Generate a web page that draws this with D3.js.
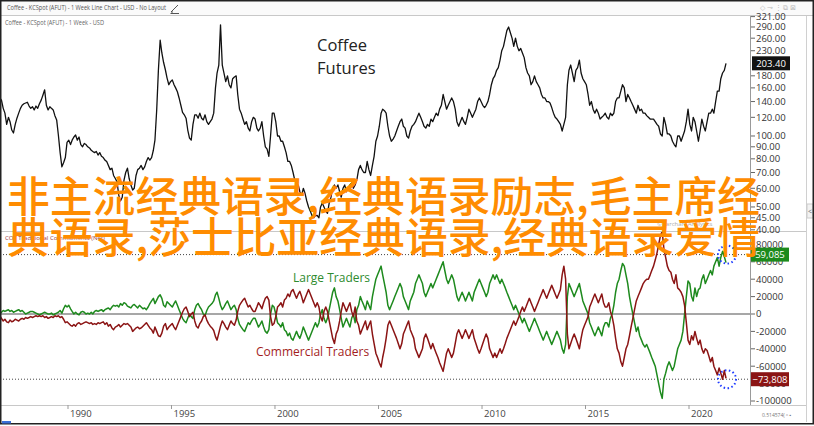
<!DOCTYPE html>
<html><head><meta charset="utf-8">
<script src="https://cdn.jsdelivr.net/npm/d3@7"></script>
<style>
body{margin:0;background:#fff;}
svg{display:block;font-family:"Open Sans","Noto Sans",sans-serif;}
</style></head><body>
<svg id="c" width="814" height="426"></svg>
<script>
// ---- DATA (monthly, starting Sep 1986) ----
const startYear = 1986, startMonthIndex = 8; // September 1986
const price = [
145,142,131,125,
112,120,115,106,103,112,119,125,131,135,137,138,
139,134,131,133,129,134,131,137,142,149,157,135,
129,133,131,129,122,117,101,85,74,77,81,94,
96,92,96,99,101,96,99,92,90,93,92,90,
89,87,86,85,86,83,85,82,81,79,78,75,
72,73,68,66,64,56,53,55,65,70,73,66,
62,59,60,68,72,73,75,72,74,78,81,79,
81,87,96,129,190,255,225,205,191,176,165,170,
173,165,160,154,145,135,126,123,119,106,98,96,
112,123,123,119,125,119,117,123,115,112,115,118,
125,160,185,200,296,200,185,170,180,165,160,175,
178,180,150,130,125,118,112,115,108,105,115,120,
118,108,105,108,115,100,90,88,82,100,125,125,
115,100,100,95,95,90,85,78,78,75,70,65,
63,62,58,56,60,57,53,50,48,46,45,46,
46,45,50,52,50,48,47,52,55,60,62,60,
62,58,55,60,62,58,60,62,63,60,62,65,
72,75,72,70,70,78,72,68,75,82,95,100,
110,125,130,128,125,110,100,95,97,100,105,110,
115,118,110,108,100,98,105,110,112,115,120,125,
120,115,110,108,112,110,118,115,120,125,122,130,
135,150,140,130,135,140,145,140,130,115,110,115,
120,115,112,120,130,125,120,125,130,140,145,140,
135,132,135,140,150,165,175,180,190,195,210,230,
240,260,280,290,275,260,240,260,240,230,235,225,
215,195,185,180,165,170,180,170,165,160,150,145,
145,140,140,138,132,125,120,118,115,112,105,112,
120,165,190,200,185,170,190,195,210,185,175,170,
165,150,135,140,130,125,130,125,118,120,122,125,
120,118,125,122,125,140,145,145,155,165,160,140,
150,145,140,135,130,125,135,128,130,125,125,122,
120,118,118,118,115,112,110,102,100,120,112,102,
102,100,95,92,90,100,100,95,100,105,115,130,
112,105,120,115,105,95,105,118,110,105,115,125,
125,130,125,140,155,155,175,185,190,203.40
];
// net positions, thousands of contracts
const largeTraders = [
0,2,4,3,
4,5,3,4,2,3,4,5,3,4,2,0,
1,2,3,3,2,1,0,-1,0,1,2,1,
0,0,1,-1,0,1,2,4,1,6,10,8,
10,6,3,0,2,0,-1,2,3,2,0,1,
0,2,0,3,4,3,4,5,3,5,6,7,
5,8,10,9,10,8,12,10,13,12,9,8,
7,10,11,9,7,10,8,6,7,5,8,12,
15,18,12,16,20,22,18,10,8,14,12,10,
8,12,15,10,5,0,-5,-8,-10,-5,0,-3,
-5,5,10,12,8,5,0,-2,4,8,10,12,
15,22,25,18,10,5,8,12,15,10,5,8,
10,5,-5,-12,-15,-18,-20,-15,-10,-12,-8,-5,
-5,-10,-15,-12,-8,-15,-20,-22,-18,0,10,8,
0,-10,-12,-15,-10,-18,-20,-25,-22,-28,-30,-25,
-20,-25,-28,-22,-15,-20,-25,-30,-25,-20,-15,-10,
-15,-10,0,5,-5,-10,-5,5,15,25,30,20,
15,5,-5,-15,-10,-5,-10,-15,-5,0,-10,5,
10,20,15,10,5,15,10,5,20,30,40,45,
50,55,45,35,25,10,5,10,15,20,25,30,
35,30,20,15,10,5,15,20,25,35,40,45,
40,35,25,20,25,30,35,30,35,40,45,50,
55,60,50,40,35,40,45,40,30,20,15,20,
25,20,15,20,25,20,15,25,30,35,40,35,
30,25,20,25,35,40,45,40,45,40,35,40,
35,30,25,20,15,10,5,10,5,0,-5,-10,
-5,-10,-15,-20,-15,-10,-5,-10,-15,-20,-25,-30,
-25,-20,-25,-30,-35,-30,-25,-20,-25,-30,-40,-45,
-35,20,35,30,25,20,25,30,35,25,15,10,
5,0,-10,-15,-20,-25,-20,-15,-20,-25,-15,-10,
-10,-15,-5,0,10,25,35,40,50,58,55,45,
35,20,10,0,-10,-20,-15,-25,-30,-35,-38,-35,
-40,-45,-50,-55,-60,-70,-80,-90,-97,-75,-68,-60,
-55,-60,-65,-60,-50,-40,-35,-30,-20,0,20,38,
35,20,15,30,20,28,30,40,45,35,40,45,
50,45,55,60,65,55,65,72,66,59.085
];
const commercialTraders = [
-2,-5,-8,-6,
-9,-10,-7,-9,-8,-6,-7,-8,-6,-5,-6,-4,
-5,-4,-3,-4,-3,-2,-3,-2,-3,-2,-4,-3,
-5,-4,-3,-4,-2,-3,-2,-4,-3,-6,-10,-9,
-11,-13,-14,-12,-14,-11,-10,-12,-11,-10,-9,-10,
-11,-10,-12,-11,-12,-10,-11,-10,-9,-12,-10,-14,
-12,-16,-18,-15,-14,-12,-15,-13,-11,-12,-11,-13,
-15,-20,-18,-16,-15,-17,-16,-14,-12,-10,-13,-16,
-18,-22,-15,-20,-25,-26,-22,-14,-11,-18,-15,-13,
-11,-15,-18,-13,-8,-3,2,6,8,3,-3,0,
2,-8,-14,-16,-11,-8,-3,-1,-7,-11,-14,-16,
-19,-26,-30,-22,-14,-8,-11,-15,-18,-13,-8,-11,
-13,-7,3,10,13,16,18,13,8,10,6,3,
3,8,13,10,6,13,18,20,16,-3,-13,-11,
-3,8,10,13,8,16,18,23,20,26,28,23,
18,23,26,20,13,18,23,28,23,18,13,8,
13,8,-3,-8,3,8,3,-8,-18,-28,-34,-23,
-18,-8,3,13,8,3,8,13,3,-3,8,-8,
-13,-23,-18,-13,-8,-18,-13,-8,-23,-34,-45,-50,
-56,-61,-50,-40,-28,-13,-8,-13,-18,-23,-28,-34,
-40,-34,-23,-18,-13,-8,-18,-23,-28,-40,-45,-50,
-45,-40,-28,-23,-28,-34,-40,-34,-40,-45,-50,-56,
-61,-66,-56,-45,-40,-45,-50,-45,-34,-23,-18,-23,
-28,-23,-18,-23,-28,-23,-18,-28,-34,-40,-45,-40,
-34,-28,-23,-28,-40,-45,-50,-45,-50,-45,-40,-45,
-40,-34,-28,-23,-18,-13,-8,-13,-8,-3,3,8,
3,8,13,18,13,8,3,8,13,18,23,28,
23,18,23,28,33,28,23,18,23,28,45,55,
40,-23,-40,-34,-28,-23,-28,-34,-40,-28,-18,-13,
-8,-3,8,13,18,23,18,13,18,23,13,8,
8,13,3,-3,-13,-28,-40,-45,-55,-60,-50,-40,
-35,-25,-15,-5,5,15,20,25,30,35,38,40,
40,45,50,55,62,70,80,90,95,75,65,55,
50,48,40,35,45,30,28,25,20,10,-10,-30,
-35,-25,-30,-20,-28,-35,-30,-40,-45,-40,-42,-48,
-55,-50,-60,-65,-70,-62,-68,-75,-65,-73.808
];
const yearTicks = [1990,1995,2000,2005,2010,2015,2020];
const priceTicks = [321,290,260,230,180,160,140,120,100,90,80,70,60,50,45,40];
const cotTicks = [80,60,40,20,0,-20,-40,-60,-80,-100];
const titleLines = ["Coffee","Futures"];
const overlayLines = ["非主流经典语录,经典语录励志,毛主席经","典语录,莎士比亚经典语录,经典语录爱情"];

// ---- CHART ----
const svg = d3.select("#c");
const dates = price.map((_, i) => new Date(startYear, startMonthIndex + i, 15));
const x = d3.scaleTime().domain([new Date(1990,0,1), new Date(2020,0,1)]).range([68, 689]);
const yP = d3.scaleLog().domain([40, 321]).range([229.8, 16.6]);
const yC = d3.scaleLinear().domain([-100, 80]).range([401, 244.4]);

svg.append("rect").attr("width",814).attr("height",426).attr("fill","#fff");
const defs = svg.append("defs");
defs.append("clipPath").attr("id","cp1").append("rect").attr("x",0).attr("y",16).attr("width",750).attr("height",215);
defs.append("clipPath").attr("id","cp2").append("rect").attr("x",0).attr("y",232).attr("width",750).attr("height",173);

// header
svg.append("rect").attr("x",0).attr("y",0).attr("width",814).attr("height",15).attr("fill","#fafafa");
svg.append("line").attr("x1",0).attr("x2",814).attr("y1",15.5).attr("y2",15.5).attr("stroke","#c8c8c8");
svg.append("text").attr("x",7).attr("y",10).attr("font-size",7).attr("fill","#555")
  .attr("textLength",159).attr("lengthAdjust","spacingAndGlyphs")
  .text("Coffee - KCSpot (AFUT) - 1 Week Line Chart - USD - No Layout");
svg.append("path").attr("d","M171,12 L178,5 M171,12 L173,12 M170.5,13.5 L179,13.5").attr("stroke","#555").attr("stroke-width",1).attr("fill","none");
svg.append("text").attr("x",760).attr("y",10).attr("font-size",7).attr("fill","#bbb").text("◇  ⊸  ⋮  ⧉  ⊠");
svg.append("text").attr("x",5).attr("y",25).attr("font-size",6.5).attr("fill","#666")
  .attr("textLength",99).attr("lengthAdjust","spacingAndGlyphs")
  .text("Coffee - KCSpot (AFUT) - 1 Week - USD");

// panel structure
svg.append("line").attr("x1",0).attr("x2",806).attr("y1",231.5).attr("y2",231.5).attr("stroke","#c8c8c8");
svg.append("line").attr("x1",0).attr("x2",806).attr("y1",405.5).attr("y2",405.5).attr("stroke","#c8c8c8");
svg.append("line").attr("x1",750.5).attr("x2",750.5).attr("y1",16).attr("y2",405).attr("stroke","#9a9a9a");
svg.append("line").attr("x1",806.5).attr("x2",806.5).attr("y1",16).attr("y2",422).attr("stroke","#d0d0d0");

// price line
const g1 = svg.append("g").attr("clip-path","url(#cp1)");
g1.append("path").datum(price)
  .attr("d", d3.line().x((d,i)=>x(dates[i])).y(d=>yP(d)))
  .attr("fill","none").attr("stroke","#111").attr("stroke-width",1.3).attr("stroke-linejoin","round");

// price axis
const pa = svg.append("g");
priceTicks.forEach(t => {
  const yy = yP(t);
  pa.append("line").attr("x1",751).attr("x2",755).attr("y1",yy).attr("y2",yy).attr("stroke","#666");
  pa.append("text").attr("x",756).attr("y",yy).attr("dy","0.35em").attr("font-size",9.5).attr("fill","#333").text(d3.format(".2f")(t));
});
const lastP = price[price.length-1];
const lastDate = dates[dates.length-1];
pa.append("rect").attr("x",752).attr("y",yP(lastP)-7).attr("width",38).attr("height",14).attr("fill","#111");
pa.append("text").attr("x",771).attr("y",yP(lastP)).attr("dy","0.36em").attr("text-anchor","middle").attr("font-size",9.5).attr("fill","#fff").text(d3.format(".2f")(lastP));

svg.append("text").attr("x",657).attr("y",226).attr("font-size",6).attr("fill","#aaa").text("©Barchart Analytics");

// title
titleLines.forEach((t,i)=>{
  svg.append("text").attr("x",317).attr("y",51+i*23).attr("font-size",16.5).attr("fill","#222").text(t);
});

// COT panel
const lastL = largeTraders[largeTraders.length-1], lastC = commercialTraders[commercialTraders.length-1];
// last-value markers: the reference lifts the large-traders marker a little above its value
const markers = [[lastL,-8,"#1c8a1c"],[lastC,1,"#8b1414"]];
const g2 = svg.append("g").attr("clip-path","url(#cp2)");
g2.append("line").attr("x1",0).attr("x2",750).attr("y1",yC(0)).attr("y2",yC(0)).attr("stroke","#8a8a8a").attr("stroke-width",1.6);
markers.forEach(([v,off])=>{
  g2.append("line").attr("x1",0).attr("x2",750).attr("y1",yC(v)+off).attr("y2",yC(v)+off).attr("stroke","#444").attr("stroke-dasharray","1,2");
});
g2.append("path").datum(largeTraders)
  .attr("d", d3.line().x((d,i)=>x(dates[i])).y(d=>yC(d)))
  .attr("fill","none").attr("stroke","#1e8a1e").attr("stroke-width",1.5).attr("stroke-linejoin","round");
g2.append("path").datum(commercialTraders)
  .attr("d", d3.line().x((d,i)=>x(dates[i])).y(d=>yC(d)))
  .attr("fill","none").attr("stroke","#8b1414").attr("stroke-width",1.5).attr("stroke-linejoin","round");
markers.forEach(([v,off])=>{
  svg.append("circle").attr("cx",x(lastDate)+1).attr("cy",yC(v)+off).attr("r",9).attr("fill","none")
    .attr("stroke","#1f3cff").attr("stroke-width",2).attr("stroke-dasharray","1.5,2.5");
});
svg.append("text").attr("x",5).attr("y",240).attr("font-size",6).attr("fill","#9b3a3a").text("COT Traditional Commitments (Net)");
svg.append("text").attr("x",293).attr("y",282).attr("font-size",12).attr("fill","#2e8b2e").text("Large Traders");
svg.append("text").attr("x",256).attr("y",356).attr("font-size",12).attr("fill","#a31d1d").text("Commercial Traders");

// COT axis
const ca = svg.append("g");
cotTicks.forEach(t => {
  const yy = yC(t);
  ca.append("line").attr("x1",751).attr("x2",755).attr("y1",yy).attr("y2",yy).attr("stroke","#666");
  ca.append("text").attr("x",756).attr("y",yy).attr("dy","0.35em").attr("font-size",9.5).attr("fill","#333").text(t*1000);
});
const fmt = d3.format(",");
markers.forEach(([v,off,c])=>{
  const lab = fmt(Math.round(v*1000));
  const yy = yC(v)+off;
  ca.append("rect").attr("x",751).attr("y",yy-7).attr("width",38).attr("height",14).attr("fill",c);
  ca.append("text").attr("x",770).attr("y",yy).attr("dy","0.36em").attr("text-anchor","middle").attr("font-size",9.5).attr("fill","#fff").text(lab);
});

// x axis
const xa = svg.append("g");
yearTicks.forEach(yv=>{
  const xx = x(new Date(yv,0,1));
  xa.append("line").attr("x1",xx).attr("x2",xx).attr("y1",405).attr("y2",409).attr("stroke","#999");
  xa.append("text").attr("x",xx+2).attr("y",417).attr("font-size",9.5).attr("fill","#444").text(yv);
});
svg.append("text").attr("x",762).attr("y",417).attr("font-size",5).attr("fill","#777").text("0.514574( ⁿ ▪");
svg.append("rect").attr("x",807).attr("y",204).attr("width",6).attr("height",14).attr("fill","#f2f2f2").attr("stroke","#ccc");
svg.append("text").attr("x",808).attr("y",214).attr("font-size",7).attr("fill","#666").text("<");

// overlay text
overlayLines.forEach((t,i)=>{
  svg.append("text").attr("x",7).attr("y",212+i*41)
    .attr("font-family","'Noto Sans CJK SC',sans-serif").attr("font-size",42).attr("font-weight",500)
    .attr("fill","#ff8c00").attr("textLength",753).attr("lengthAdjust","spacingAndGlyphs").text(t);
});

// frame
svg.append("rect").attr("x",0.75).attr("y",0.75).attr("width",812.5).attr("height",423).attr("fill","none").attr("stroke","#222").attr("stroke-width",1.5);
svg.append("rect").attr("x",2).attr("y",421).attr("width",9).attr("height",2.5).attr("fill","#3b6fd8");
</script>
</body></html>
